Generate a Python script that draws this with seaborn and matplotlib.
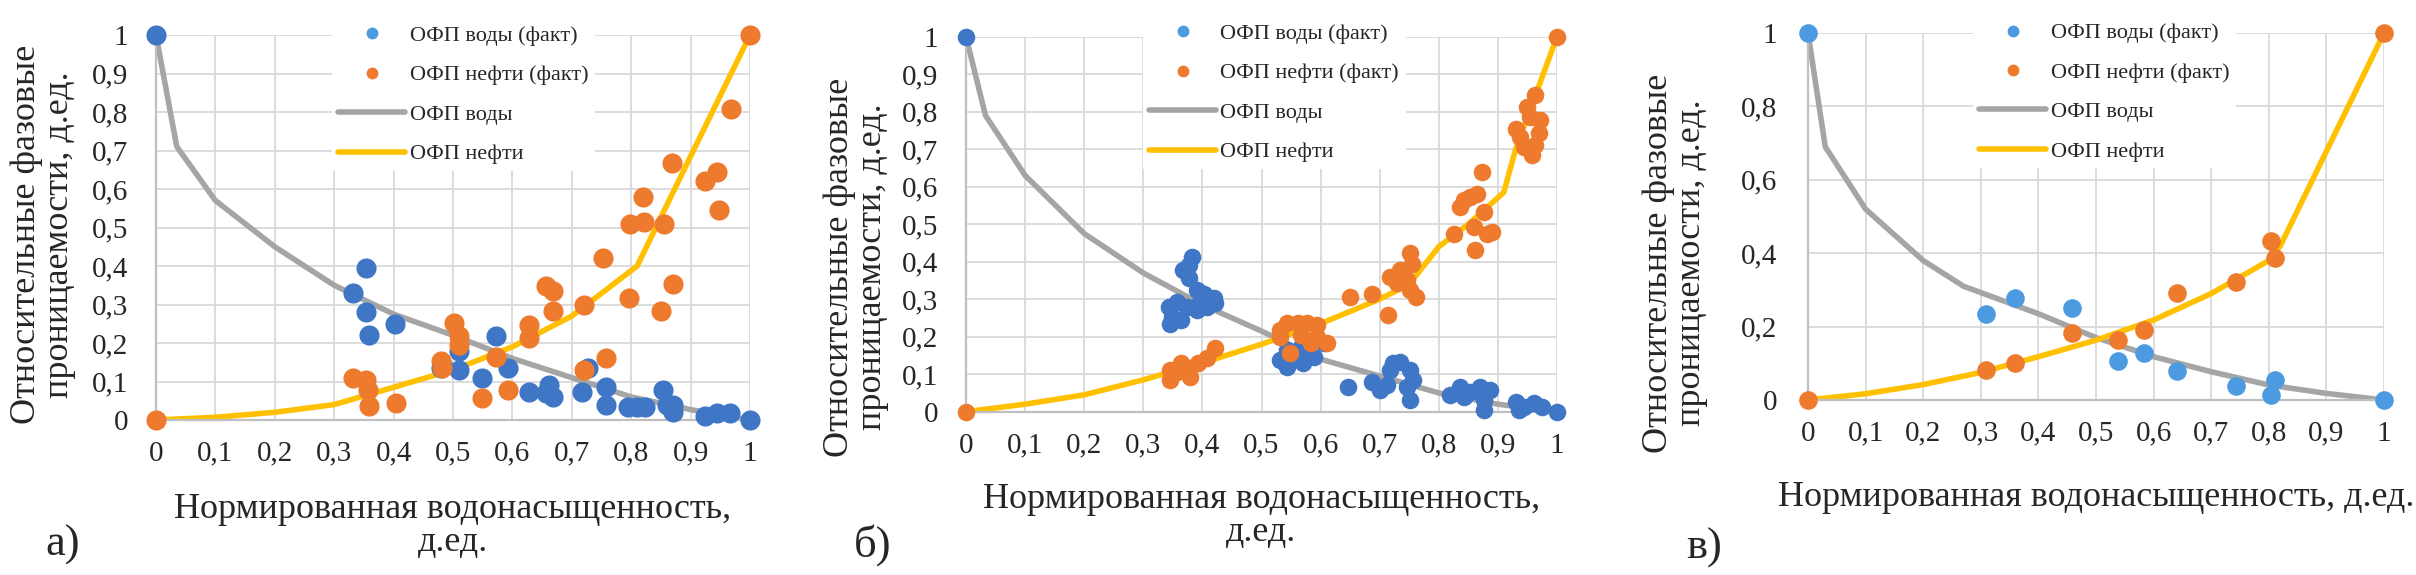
import matplotlib
matplotlib.use('Agg')
import matplotlib.pyplot as plt
from matplotlib.lines import Line2D
import seaborn as sns

# ------------------------------------------------------------
# data
# ------------------------------------------------------------
x_ticks = [0, 0.1, 0.2, 0.3, 0.4, 0.5, 0.6, 0.7, 0.8, 0.9, 1.0]
x_tick_labels = ['0', '0,1', '0,2', '0,3', '0,4', '0,5', '0,6', '0,7', '0,8', '0,9', '1']
y_ticks_ab = [0, 0.1, 0.2, 0.3, 0.4, 0.5, 0.6, 0.7, 0.8, 0.9, 1.0]
y_tick_labels_ab = ['0', '0,1', '0,2', '0,3', '0,4', '0,5', '0,6', '0,7', '0,8', '0,9', '1']
y_ticks_c = [0, 0.2, 0.4, 0.6, 0.8, 1.0]
y_tick_labels_c = ['0', '0,2', '0,4', '0,6', '0,8', '1']

# panel a
a_water_x = [0, 0.331, 0.354, 0.353, 0.359, 0.403, 0.479, 0.482, 0.51, 0.51, 0.548, 0.572,
             0.592, 0.628, 0.656, 0.662, 0.668, 0.718, 0.727, 0.757, 0.758, 0.795, 0.81,
             0.823, 0.853, 0.86, 0.87, 0.87, 0.924, 0.944, 0.966, 1.0]
a_water_y = [1.0, 0.33, 0.396, 0.28, 0.22, 0.25, 0.135, 0.143, 0.178, 0.13, 0.109, 0.217,
             0.135, 0.074, 0.07, 0.09, 0.06, 0.074, 0.135, 0.087, 0.039, 0.035, 0.035,
             0.035, 0.078, 0.04, 0.04, 0.02, 0.01, 0.017, 0.017, 0.0]
a_oil_x = [0, 0.331, 0.353, 0.357, 0.359, 0.404, 0.479, 0.482, 0.501, 0.51, 0.51, 0.548,
           0.572, 0.592, 0.628, 0.628, 0.656, 0.668, 0.668, 0.72, 0.72, 0.752, 0.758, 0.796,
           0.798, 0.82, 0.822, 0.85, 0.856, 0.868, 0.87, 0.924, 0.944, 0.947, 0.968, 1.0]
a_oil_y = [0, 0.11, 0.103, 0.079, 0.036, 0.043, 0.152, 0.135, 0.252, 0.217, 0.196, 0.058,
           0.163, 0.078, 0.248, 0.213, 0.348, 0.335, 0.284, 0.30, 0.13, 0.422, 0.161, 0.317,
           0.509, 0.578, 0.513, 0.284, 0.509, 0.667, 0.352, 0.622, 0.643, 0.545, 0.809, 1.0]
a_wline_x = [0, 0.035, 0.1, 0.2, 0.3, 0.4, 0.5, 0.6, 0.7, 0.8, 0.9, 1.0]
a_wline_y = [1.0, 0.71, 0.57, 0.45, 0.35, 0.275, 0.22, 0.16, 0.11, 0.06, 0.027, 0.0]
a_oline_x = [0, 0.1, 0.2, 0.3, 0.4, 0.5, 0.6, 0.7, 0.81, 0.9, 1.0]
a_oline_y = [0, 0.007, 0.02, 0.04, 0.085, 0.13, 0.19, 0.27, 0.40, 0.685, 1.0]

# panel b
b_water_x = [0, 0.382, 0.377, 0.368, 0.377, 0.391, 0.402, 0.343, 0.348, 0.346, 0.363, 0.374,
             0.391, 0.408, 0.422, 0.419, 0.396, 0.357,
             0.532, 0.543, 0.554, 0.571, 0.588, 0.605, 0.566, 0.543,
             0.647, 0.687, 0.712, 0.723, 0.718, 0.735, 0.752, 0.757, 0.746, 0.752, 0.701,
             0.819, 0.836, 0.853, 0.87, 0.887, 0.876, 0.876, 0.842,
             0.93, 0.944, 0.961, 0.975, 0.935, 1.0]
b_water_y = [1.0, 0.413, 0.391, 0.378, 0.356, 0.325, 0.315, 0.28, 0.253, 0.235, 0.244, 0.28,
             0.271, 0.28, 0.289, 0.302, 0.293, 0.293,
             0.138, 0.12, 0.156, 0.13, 0.147, 0.182, 0.173, 0.165,
             0.067, 0.078, 0.071, 0.129, 0.111, 0.133, 0.111, 0.084, 0.066, 0.031, 0.058,
             0.045, 0.066, 0.053, 0.066, 0.058, 0.031, 0.005, 0.04,
             0.027, 0.013, 0.022, 0.013, 0.004, 0.0]
b_oil_x = [0, 0.346, 0.346, 0.363, 0.377, 0.379, 0.393, 0.408, 0.422, 0.357,
           0.532, 0.543, 0.561, 0.577, 0.594, 0.532, 0.566, 0.583, 0.611, 0.549, 0.594,
           0.650, 0.687, 0.714, 0.718, 0.735, 0.752, 0.754, 0.746, 0.761, 0.752, 0.729,
           0.825, 0.836, 0.853, 0.865, 0.873, 0.876, 0.859, 0.881, 0.89, 0.862, 0.842,
           0.93, 0.938, 0.949, 0.963, 0.972, 0.969, 0.958, 0.963, 0.955, 0.944, 1.0]
b_oil_y = [0, 0.111, 0.085, 0.129, 0.116, 0.093, 0.129, 0.142, 0.169, 0.107,
           0.218, 0.236, 0.236, 0.236, 0.231, 0.2, 0.204, 0.182, 0.182, 0.156, 0.2,
           0.307, 0.314, 0.258, 0.36, 0.378, 0.422, 0.395, 0.351, 0.307, 0.325, 0.342,
           0.475, 0.547, 0.573, 0.581, 0.64, 0.533, 0.493, 0.475, 0.48, 0.431, 0.564,
           0.755, 0.733, 0.813, 0.844, 0.777, 0.742, 0.684, 0.711, 0.786, 0.707, 1.0]
b_wline_x = [0, 0.033, 0.1, 0.2, 0.3, 0.4, 0.5, 0.6, 0.7, 0.8, 0.9, 1.0]
b_wline_y = [1.0, 0.79, 0.63, 0.475, 0.37, 0.285, 0.215, 0.14, 0.095, 0.05, 0.02, 0.0]
b_oline_x = [0, 0.1, 0.2, 0.3, 0.4, 0.5, 0.6, 0.7, 0.75, 0.8, 0.85, 0.91, 0.93, 0.965, 1.0]
b_oline_y = [0, 0.02, 0.045, 0.085, 0.13, 0.18, 0.235, 0.30, 0.34, 0.44, 0.50, 0.585, 0.70, 0.85, 1.0]

# panel c
c_water_x = [0, 0.309, 0.359, 0.458, 0.539, 0.583, 0.641, 0.743, 0.811, 0.803, 1.0]
c_water_y = [1.0, 0.234, 0.279, 0.252, 0.107, 0.127, 0.08, 0.039, 0.054, 0.013, 0.0]
c_oil_x = [0, 0.309, 0.359, 0.458, 0.539, 0.583, 0.641, 0.743, 0.803, 0.811, 1.0]
c_oil_y = [0, 0.082, 0.102, 0.182, 0.163, 0.192, 0.291, 0.322, 0.434, 0.388, 1.0]
c_wline_x = [0, 0.03, 0.1, 0.2, 0.27, 0.4, 0.5, 0.6, 0.7, 0.8, 0.9, 1.0]
c_wline_y = [1.0, 0.69, 0.52, 0.38, 0.31, 0.235, 0.17, 0.118, 0.077, 0.041, 0.018, 0.0]
c_oline_x = [0, 0.1, 0.2, 0.3, 0.4, 0.5, 0.6, 0.7, 0.8, 0.82, 1.0]
c_oline_y = [0, 0.017, 0.042, 0.075, 0.118, 0.163, 0.218, 0.29, 0.38, 0.42, 1.0]

legend_labels = ['ОФП воды (факт)', 'ОФП нефти (факт)', 'ОФП воды', 'ОФП нефти']
y_label = 'Относительные фазовые\nпроницаемости, д.ед.'
x_label_ab = 'Нормированная водонасыщенность,\nд.ед.'
x_label_c = 'Нормированная водонасыщенность, д.ед.'

# ------------------------------------------------------------
# style
# ------------------------------------------------------------
sns.set_style('white')
plt.rcParams['font.family'] = ['Liberation Serif', 'DejaVu Serif']

BLUE = '#3F76C6'
BLUE_LIGHT = '#4C9BE0'
ORANGE = '#EE7A2E'
GRAY = '#A5A5A5'
YELLOW = '#FFC000'
GRID = '#D9D9D9'


def draw_panel(ax, wx, wy, ox, oy, wlx, wly, olx, oly, yticks, ylabels, xlabel,
               blue, msize, ylab_xy, xlab_y, ytick_pad, leg_anchor):
    sns.lineplot(x=wlx, y=wly, ax=ax, color=GRAY, lw=4, sort=False, estimator=None)
    sns.lineplot(x=olx, y=oly, ax=ax, color=YELLOW, lw=4, sort=False, estimator=None)
    sns.scatterplot(x=wx, y=wy, ax=ax, color=blue, s=msize, linewidth=0, clip_on=False, zorder=3)
    sns.scatterplot(x=ox, y=oy, ax=ax, color=ORANGE, s=msize, linewidth=0, clip_on=False, zorder=4)

    ax.set_xlim(0, 1)
    ax.set_ylim(0, 1)
    ax.set_xticks(x_ticks)
    ax.set_xticklabels(x_tick_labels)
    ax.set_yticks(yticks)
    ax.set_yticklabels(ylabels)
    ax.tick_params(axis='x', length=0, labelsize=21, pad=15)
    ax.tick_params(axis='y', length=0, labelsize=21, pad=ytick_pad)
    ax.grid(True, color=GRID, lw=1.3)
    ax.set_axisbelow(True)
    for side in ['top', 'right']:
        ax.spines[side].set_visible(False)
    for side in ['left', 'bottom']:
        ax.spines[side].set_color('#BFBFBF')
        ax.spines[side].set_linewidth(1.6)

    ax.set_ylabel(y_label, fontsize=26, linespacing=1.0)
    ax.yaxis.set_label_coords(*ylab_xy)
    ax.set_xlabel(xlabel, fontsize=26, linespacing=1.0)
    ax.xaxis.set_label_coords(0.5, xlab_y)

    handles = [
        Line2D([], [], ls='', marker='o', ms=8.5, color=BLUE_LIGHT, mew=0),
        Line2D([], [], ls='', marker='o', ms=8.5, color=ORANGE, mew=0),
        Line2D([], [], color=GRAY, lw=4),
        Line2D([], [], color=YELLOW, lw=4),
    ]
    leg = ax.legend(handles, legend_labels, loc='upper left', bbox_to_anchor=leg_anchor,
                    borderaxespad=0, fontsize=16, frameon=True, fancybox=False,
                    framealpha=1, edgecolor='white', facecolor='white',
                    handlelength=3.0, handletextpad=0.2, labelspacing=0.85, borderpad=0.3)
    leg.get_frame().set_linewidth(0)


fig = plt.figure(figsize=(24.16, 5.75), dpi=100)
ax_a = fig.add_axes([156 / 2416, 155 / 575, 594 / 2416, 385 / 575])
ax_b = fig.add_axes([966 / 2416, 163.3 / 575, 591 / 2416, 375 / 575])
ax_c = fig.add_axes([1808 / 2416, 175 / 575, 576 / 2416, 367 / 575])

draw_panel(ax_a, a_water_x, a_water_y, a_oil_x, a_oil_y, a_wline_x, a_wline_y,
           a_oline_x, a_oline_y, y_ticks_ab, y_tick_labels_ab, x_label_ab,
           BLUE, 210, (-0.135, 0.482), -0.19, 20, (0.296, 1.042))
draw_panel(ax_b, b_water_x, b_water_y, b_oil_x, b_oil_y, b_wline_x, b_wline_y,
           b_oline_x, b_oline_y, y_ticks_ab, y_tick_labels_ab, x_label_ab,
           BLUE, 160, (-0.130, 0.386), -0.19, 20, (0.299, 1.053))
draw_panel(ax_c, c_water_x, c_water_y, c_oil_x, c_oil_y, c_wline_x, c_wline_y,
           c_oline_x, c_oline_y, y_ticks_c, y_tick_labels_c, x_label_c,
           BLUE_LIGHT, 180, (-0.174, 0.373), -0.22, 22, (0.286, 1.046))

fig.text(63 / 2416, 1 - 545 / 575, 'а)', fontsize=32, ha='center', va='center')
fig.text(873 / 2416, 1 - 545 / 575, 'б)', fontsize=32, ha='center', va='center')
fig.text(1704 / 2416, 1 - 548 / 575, 'в)', fontsize=32, ha='center', va='center')

fig.savefig('out.png', dpi=100)
